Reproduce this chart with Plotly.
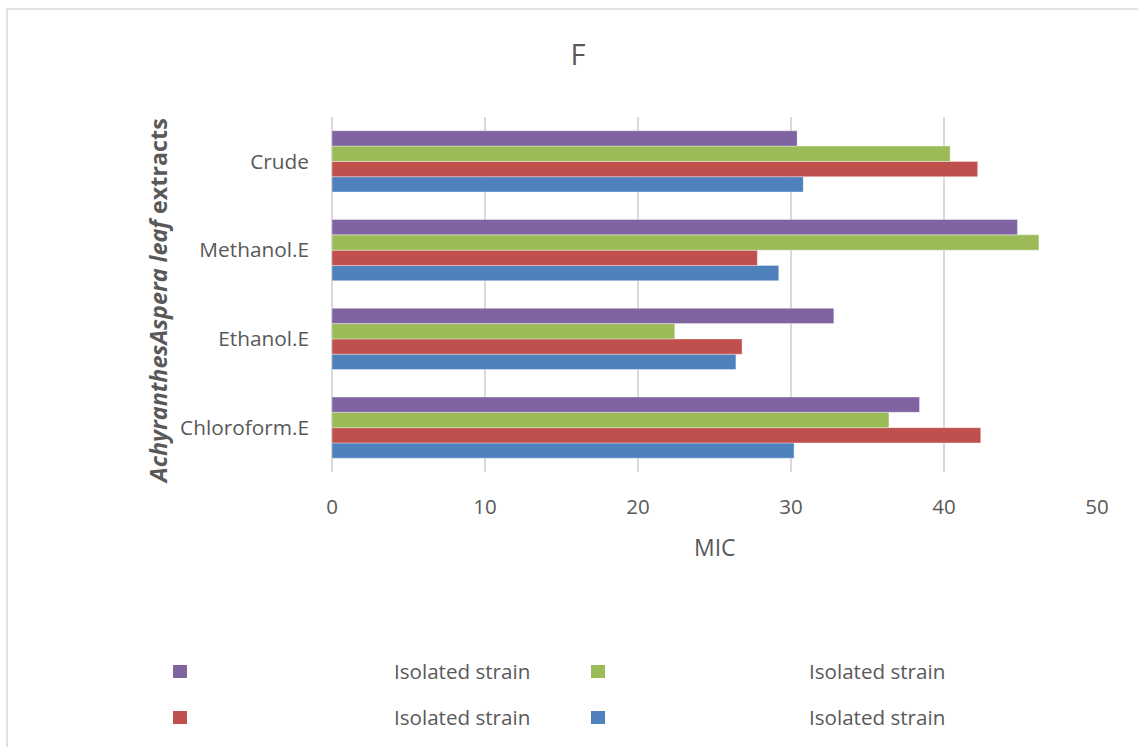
import plotly.graph_objects as go

# Extract categories (bottom to top on the category axis)
categories = ["Chloroform.E", "Ethanol.E", "Methanol.E", "Crude"]

# MIC values per isolated strain, same order as categories
strain_blue = [30.2, 26.4, 29.2, 30.8]
strain_red = [42.4, 26.8, 27.8, 42.2]
strain_green = [36.4, 22.4, 46.2, 40.4]
strain_purple = [38.4, 32.8, 44.8, 30.4]

series_names = ["Isolated strain", "Isolated strain", "Isolated strain", "Isolated strain"]
x_ticks = [0, 10, 20, 30, 40, 50]

colors = ["#4F81BD", "#C0504D", "#9BBB59", "#8064A2"]
series = [strain_blue, strain_red, strain_green, strain_purple]

FONT = "Open Sans"
GREY = "#595959"

fig = go.Figure()
for name, vals, col in zip(series_names, series, colors):
    fig.add_trace(go.Bar(
        y=categories, x=vals, name=name, orientation="h",
        marker=dict(color=col, line=dict(color="rgba(255,255,255,0.6)", width=0.6)),
        showlegend=False,
    ))

W, H = 1138, 747
L, R, T, B = 332, 41, 117, 275
pw, ph = W - L - R, H - T - B


def px(x):
    return (x - L) / pw


def py(y):
    return (H - B - y) / ph


shapes = [
    # outer chart frame
    dict(type="rect", xref="paper", yref="paper",
         x0=px(7), x1=px(1145), y0=py(760), y1=py(9),
         line=dict(color="#D9D9D9", width=1.5), fillcolor="rgba(0,0,0,0)", layer="below"),
]
annotations = []

# legend: two rows, two columns; purple, green / red, blue
legend_layout = [
    (3, 180, 392, 671),
    (2, 598, 807, 671),
    (1, 180, 392, 717),
    (0, 598, 807, 717),
]
for idx, mx, tx, cy in legend_layout:
    shapes.append(dict(type="rect", xref="paper", yref="paper",
                       x0=px(mx - 7), x1=px(mx + 7), y0=py(cy + 7), y1=py(cy - 6),
                       line=dict(width=0), fillcolor=colors[idx]))
    annotations.append(dict(xref="paper", yref="paper", x=px(tx), y=py(cy),
                            xanchor="left", yanchor="middle", showarrow=False,
                            text=series_names[idx], font=dict(family=FONT, size=20.6, color=GREY)))

# axis titles
annotations.append(dict(xref="paper", yref="paper", x=0.5, y=py(547),
                        xanchor="center", yanchor="middle", showarrow=False,
                        text="MIC", font=dict(family=FONT, size=23, color=GREY)))
annotations.append(dict(xref="paper", yref="paper", x=px(158), y=py(301),
                        xanchor="center", yanchor="middle", showarrow=False, textangle=-90,
                        text="<b><i>AchyranthesAspera leaf</i> extracts</b>",
                        font=dict(family=FONT, size=23.3, color=GREY)))

fig.update_layout(
    width=W, height=H,
    margin=dict(l=L, r=R, t=T, b=B),
    paper_bgcolor="white", plot_bgcolor="white",
    barmode="group", bargap=0.31, bargroupgap=0,
    title=dict(text="F", x=578 / W, xref="container", xanchor="center",
               y=1 - 55 / H, yref="container", yanchor="middle",
               font=dict(family=FONT, size=29, color=GREY)),
    xaxis=dict(range=[0, 50], tickvals=x_ticks, showgrid=True, gridcolor="#D9D9D9", gridwidth=1.5,
               zeroline=True, zerolinecolor="#D9D9D9", zerolinewidth=1.5, showline=False,
               ticks="", ticklabelstandoff=20,
               tickfont=dict(family=FONT, size=20.5, color=GREY)),
    yaxis=dict(showgrid=False, showline=False, ticks="", ticklabelstandoff=22,
               tickfont=dict(family=FONT, size=20.8, color=GREY)),
    shapes=shapes, annotations=annotations,
    font=dict(family=FONT, color=GREY),
)

fig.write_html("out.html")
